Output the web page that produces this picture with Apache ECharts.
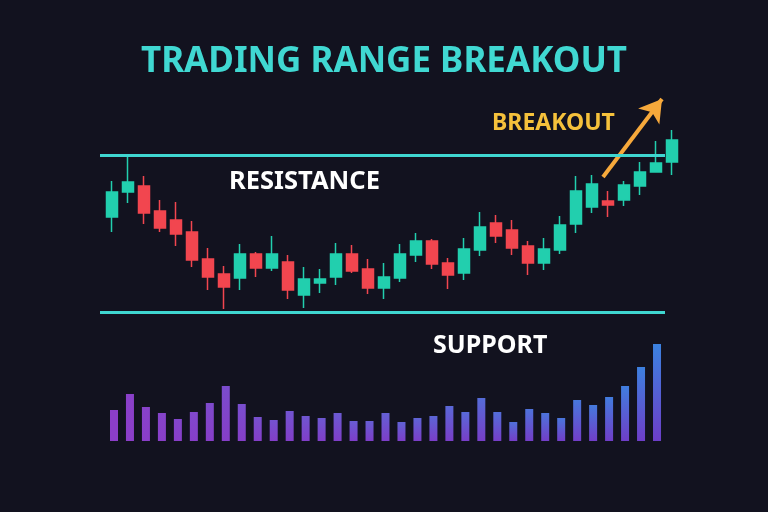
<!DOCTYPE html>
<html>
<head>
<meta charset="utf-8">
<title>Trading Range Breakout</title>
<script src="https://cdn.jsdelivr.net/npm/echarts@6/dist/echarts.min.js"></script>
<style>
  html, body { margin: 0; padding: 0; background: #12121f; }
  #chart { width: 768px; height: 512px; }
</style>
</head>
<body>
<div id="chart"></div>
<script>
// price candles, each [open, close, low, high]
var candles = [
  [56.5, 69, 49, 74.5],
  [69, 74, 63.5, 86.5],
  [72, 58.5, 53, 77],
  [59.5, 51, 49, 65],
  [55, 48, 42, 64],
  [49, 35, 31.5, 54.5],
  [35.5, 26.5, 20, 41],
  [28, 21.5, 10.5, 32],
  [26, 38, 20, 43],
  [38, 31, 26.5, 39],
  [31, 38, 29.5, 47],
  [34, 20, 15.5, 37.5],
  [17.5, 25.5, 11, 31.5],
  [23.5, 25.5, 18.5, 30.5],
  [26.5, 38, 22.5, 43.5],
  [38, 29.5, 28.5, 42.5],
  [30.5, 21, 18, 35.5],
  [21, 26.5, 15.5, 33.5],
  [26, 38, 24, 43],
  [37.5, 44.5, 34, 48.5],
  [44.5, 33, 30.5, 45.5],
  [33.5, 27.5, 20.5, 36],
  [28.5, 40.5, 25, 46],
  [40, 51.5, 37, 59],
  [53.5, 47, 43.5, 57.5],
  [50, 41, 37.5, 55],
  [42, 33.5, 27.5, 44.5],
  [33.5, 40.5, 30, 46],
  [40, 52.5, 38, 57],
  [53, 69.5, 48.5, 77],
  [61.5, 73, 58.5, 77.5],
  [64.5, 62.5, 56.5, 69.5],
  [65, 72.5, 62, 74.5],
  [72, 79, 67.5, 84],
  [79, 83.5, 79, 94.5],
  [84, 95, 77.5, 100]
];

var volumes = [
  31, 47, 34, 28, 22, 29, 38, 55, 37, 24, 21, 30, 25, 23, 28, 20, 20, 28,
  19, 23, 25, 35, 29, 43, 29, 19, 32, 28, 23, 41, 36, 44, 55, 74, 97
];

var resistanceLevel = 87.5;
var supportLevel = 9;

var candleDays = candles.map(function (c, i) { return 'D' + (i + 1); });
var volumeDays = volumes.map(function (v, i) { return 'V' + (i + 1); });

var UP = '#22cfae';
var DOWN = '#f2464f';
var LEVEL = '#3fd6d0';
var FONT = '"Noto Sans", "DejaVu Sans", sans-serif';

function mix(a, b, t) {
  var pa = [1, 3, 5].map(function (k) { return parseInt(a.substr(k, 2), 16); });
  var pb = [1, 3, 5].map(function (k) { return parseInt(b.substr(k, 2), 16); });
  return 'rgb(' + pa.map(function (v, k) { return Math.round(v + (pb[k] - v) * t); }).join(',') + ')';
}

var chart = echarts.init(document.getElementById('chart'));

chart.setOption({
  backgroundColor: '#12121f',
  animation: false,
  title: {
    text: 'TRADING RANGE BREAKOUT',
    left: 'center',
    top: 40,
    textStyle: { color: '#40d8d2', fontSize: 35, fontWeight: 'bold', fontFamily: FONT }
  },
  grid: [
    { left: 104, width: 576, top: 100, height: 230 },
    { left: 106, width: 559, top: 341, height: 100 },
    { left: 100, width: 565, top: 100, height: 230 }
  ],
  xAxis: [
    { type: 'category', gridIndex: 0, data: candleDays, show: false },
    { type: 'category', gridIndex: 1, data: volumeDays, show: false },
    { type: 'category', gridIndex: 2, data: [''], show: false }
  ],
  yAxis: [
    { type: 'value', gridIndex: 0, min: 0, max: 115, show: false },
    { type: 'value', gridIndex: 1, min: 0, max: 100, show: false },
    { type: 'value', gridIndex: 2, min: 0, max: 115, show: false }
  ],
  series: [
    {
      type: 'candlestick',
      xAxisIndex: 0,
      yAxisIndex: 0,
      barWidth: 11,
      data: candles,
      itemStyle: {
        color: UP,
        color0: DOWN,
        borderColor: UP,
        borderColor0: DOWN,
        borderWidth: 1.5
      },
      markLine: {
        silent: true,
        symbol: ['none', 'arrow'],
        symbolSize: [20, 22],
        lineStyle: { color: '#f7a93b', width: 4, type: 'solid' },
        label: { show: false },
        data: [[{ x: 603, y: 177 }, { x: 662, y: 99 }]]
      }
    },
    {
      type: 'bar',
      xAxisIndex: 1,
      yAxisIndex: 1,
      barWidth: 8,
      data: volumes,
      itemStyle: {
        color: function (p) {
          var t = p.dataIndex / (volumes.length - 1);
          return new echarts.graphic.LinearGradient(0, 0, 0, 1, [
            { offset: 0, color: mix('#8c3ec8', '#3b82e0', t) },
            { offset: 1, color: mix('#8c3ec8', '#6d3ec8', t) }
          ]);
        }
      }
    },
    {
      type: 'line',
      xAxisIndex: 2,
      yAxisIndex: 2,
      data: [],
      markLine: {
        silent: true,
        symbol: 'none',
        label: { show: false },
        lineStyle: { color: LEVEL, width: 3, type: 'solid' },
        data: [{ yAxis: resistanceLevel }, { yAxis: supportLevel }]
      }
    }
  ],
  graphic: [
    {
      type: 'text', left: 229, top: 169,
      style: { text: 'RESISTANCE', fill: '#ffffff', font: 'bold 25.5px ' + FONT }
    },
    {
      type: 'text', left: 433, top: 333,
      style: { text: 'SUPPORT', fill: '#ffffff', font: 'bold 25px ' + FONT }
    },
    {
      type: 'text', left: 492, top: 112,
      style: { text: 'BREAKOUT', fill: '#f5c13b', font: 'bold 23px ' + FONT }
    }
  ]
});
</script>
</body>
</html>
